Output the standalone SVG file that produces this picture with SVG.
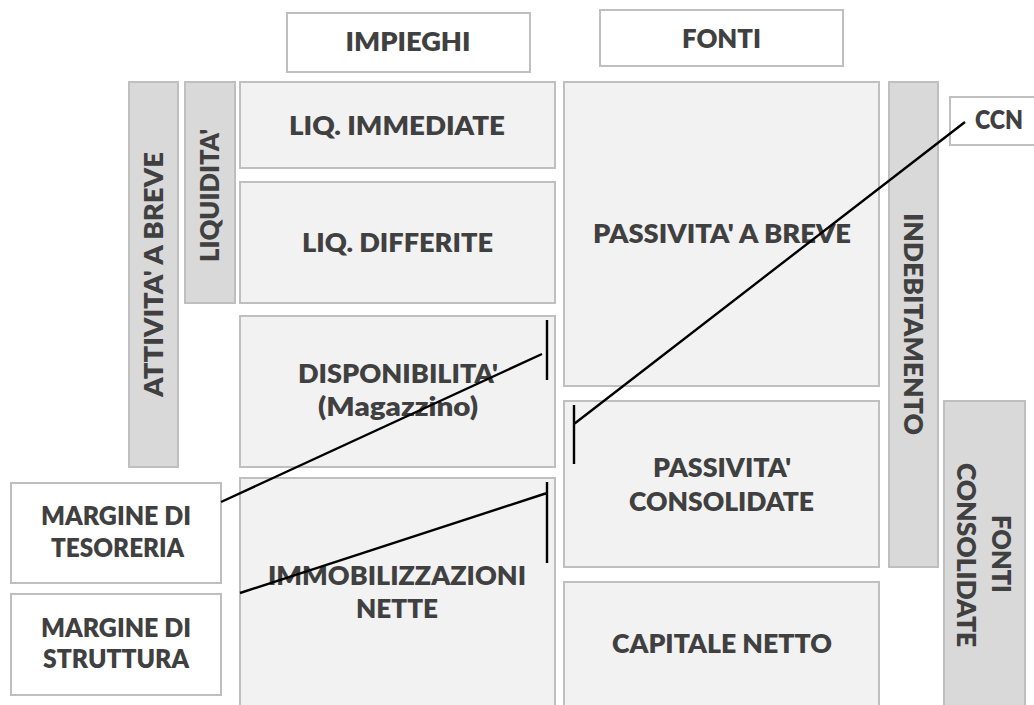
<svg xmlns="http://www.w3.org/2000/svg" width="1034" height="705" viewBox="0 0 1034 705">
<style>
text{font-family:Lato,"Open Sans","Liberation Sans",sans-serif;font-weight:800;fill:#404040;font-size:26.5px;text-anchor:middle}
.box{fill:#f2f2f2;stroke:#bfbfbf;stroke-width:2}
.bar{fill:#d9d9d9;stroke:#bfbfbf;stroke-width:2}
.wht{fill:#ffffff;stroke:#bfbfbf;stroke-width:2}
.ln{stroke:#000;stroke-width:2.4;fill:none}
</style>
<rect width="1034" height="705" fill="#fff"/>
<g id="impieghi"><rect class="wht" x="287" y="13" width="243" height="59"/><text x="408" y="51" textLength="125" lengthAdjust="spacingAndGlyphs">IMPIEGHI</text></g>
<g id="fonti"><rect class="wht" x="600" y="10" width="243" height="56"/><text x="721.5" y="48" textLength="79" lengthAdjust="spacingAndGlyphs">FONTI</text></g>
<g id="attivita-breve"><rect class="bar" x="129" y="82" width="49" height="385"/><text transform="rotate(-90 163 274.5)" x="163" y="274.5" textLength="245" lengthAdjust="spacingAndGlyphs">ATTIVITA' A BREVE</text></g>
<g id="liquidita"><rect class="bar" x="185" y="82" width="50" height="221"/><text transform="rotate(-90 219 195.5)" x="219" y="195.5" textLength="133" lengthAdjust="spacingAndGlyphs">LIQUIDITA'</text></g>
<g id="liq-immediate"><rect class="box" x="240" y="82" width="315" height="86"/><text x="397" y="135" textLength="216" lengthAdjust="spacingAndGlyphs">LIQ. IMMEDIATE</text></g>
<g id="liq-differite"><rect class="box" x="240" y="182" width="315" height="121"/><text x="397.5" y="252" textLength="191" lengthAdjust="spacingAndGlyphs">LIQ. DIFFERITE</text></g>
<g id="disponibilita"><rect class="box" x="240" y="316" width="315" height="151"/><text x="398" y="383" textLength="200" lengthAdjust="spacingAndGlyphs">DISPONIBILITA'</text><text x="398" y="416" textLength="160" lengthAdjust="spacingAndGlyphs">(Magazzino)</text></g>
<g id="immobilizzazioni"><rect class="box" x="240" y="478" width="315" height="240"/><text x="397" y="585" textLength="258" lengthAdjust="spacingAndGlyphs">IMMOBILIZZAZIONI</text><text x="397" y="618" textLength="82" lengthAdjust="spacingAndGlyphs">NETTE</text></g>
<g id="passivita-breve"><rect class="box" x="564" y="82" width="315" height="304"/><text x="722" y="243" textLength="258" lengthAdjust="spacingAndGlyphs">PASSIVITA' A BREVE</text></g>
<g id="passivita-consolidate"><rect class="box" x="564" y="401" width="315" height="166"/><text x="722" y="477" textLength="138" lengthAdjust="spacingAndGlyphs">PASSIVITA'</text><text x="721.5" y="511" textLength="185" lengthAdjust="spacingAndGlyphs">CONSOLIDATE</text></g>
<g id="capitale-netto"><rect class="box" x="564" y="582" width="315" height="140"/><text x="722" y="653" textLength="220" lengthAdjust="spacingAndGlyphs">CAPITALE NETTO</text></g>
<g id="indebitamento"><rect class="bar" x="889" y="82" width="49" height="485"/><text transform="rotate(90 903.5 324)" x="903.5" y="324" textLength="222" lengthAdjust="spacingAndGlyphs">INDEBITAMENTO</text></g>
<g id="fonti-consolidate"><rect class="bar" x="944" y="401" width="81" height="320"/><text transform="rotate(90 992 554)" x="992" y="554" textLength="78" lengthAdjust="spacingAndGlyphs">FONTI</text><text transform="rotate(90 957 555)" x="957" y="555" textLength="184" lengthAdjust="spacingAndGlyphs">CONSOLIDATE</text></g>
<g id="ccn"><rect class="wht" x="950" y="97" width="100" height="48"/><text x="999" y="129" textLength="48" lengthAdjust="spacingAndGlyphs">CCN</text></g>
<g id="margine-tesoreria"><rect class="wht" x="11" y="483" width="210" height="100"/><text x="116" y="525" textLength="150" lengthAdjust="spacingAndGlyphs">MARGINE DI</text><text x="117.5" y="557" textLength="133" lengthAdjust="spacingAndGlyphs">TESORERIA</text></g>
<g id="margine-struttura"><rect class="wht" x="11" y="594" width="210" height="101"/><text x="116" y="637" textLength="150" lengthAdjust="spacingAndGlyphs">MARGINE DI</text><text x="116" y="668" textLength="146" lengthAdjust="spacingAndGlyphs">STRUTTURA</text></g>
<g id="connectors">
<path class="ln" d="M574 424 L965 122 M574 405 V464"/>
<path class="ln" d="M221 502 L542 354 M547 320 V380"/>
<path class="ln" d="M240 593 L547 493 M547 482 V563"/>
</g>
</svg>
